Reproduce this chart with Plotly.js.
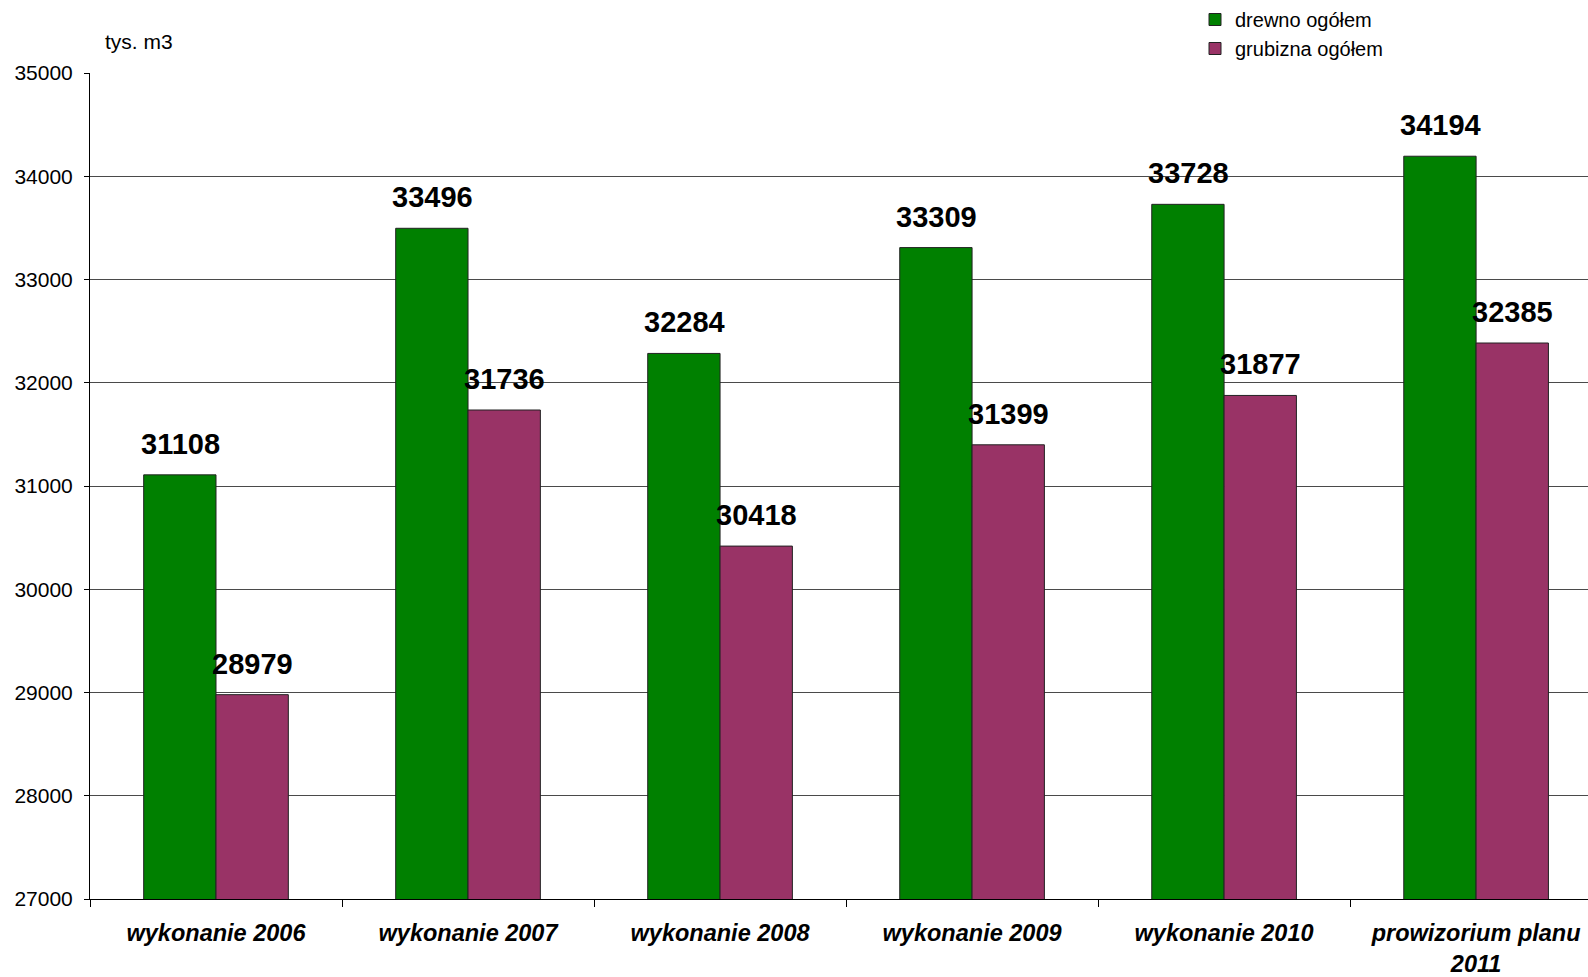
<!DOCTYPE html>
<html>
<head>
<meta charset="utf-8">
<script src="https://cdn.plot.ly/plotly-3.0.1.min.js"></script>
<style>html,body{margin:0;padding:0;background:#fff;overflow:hidden}</style>
</head>
<body>
<div id="chart" style="width:1588px;height:977px"></div>
<script>
const categories = ["wykonanie 2006", "wykonanie 2007", "wykonanie 2008", "wykonanie 2009", "wykonanie 2010", "prowizorium planu<br>2011"];
const seriesNames = ["drewno ogółem", "grubizna ogółem"];
const drewno = [31108, 33496, 32284, 33309, 33728, 34194];
const grubizna = [28979, 31736, 30418, 31399, 31877, 32385];
const yTicks = [27000, 28000, 29000, 30000, 31000, 32000, 33000, 34000, 35000];
const yTickText = ["27000", "28000", "29000", "30000", "31000", "32000", "33000", "34000", "35000"];
const yUnit = "tys. m3";

const FONT = "Liberation Sans, Arial, sans-serif";
const idx = categories.map((c, i) => i);

const traces = [
  {type: "bar", name: seriesNames[0], x: idx, y: drewno,
   marker: {color: "#008000", line: {color: "#222", width: 1}}, hoverinfo: "y"},
  {type: "bar", name: seriesNames[1], x: idx, y: grubizna,
   marker: {color: "#993366", line: {color: "#222", width: 1}}, hoverinfo: "y"}
];

const annotations = [];
[drewno, grubizna].forEach((arr, s) => {
  arr.forEach((v, i) => {
    annotations.push({
      x: i, y: v, xref: "x", yref: "y", text: String(v), showarrow: false,
      xanchor: "center", yanchor: "bottom", xshift: s === 0 ? -36 : 36, yshift: 13,
      font: {family: FONT, size: 29, color: "#000", weight: "bold"}
    });
  });
});
annotations.push({
  xref: "paper", yref: "paper", x: 13 / 1498, y: (899 - 41) / 826, xanchor: "left", yanchor: "middle",
  text: yUnit, showarrow: false, font: {family: FONT, size: 21, color: "#000"}
});

const layout = {
  width: 1588, height: 977,
  margin: {l: 90, r: 0, t: 73, b: 78, pad: 0, autoexpand: false},
  paper_bgcolor: "#fff", plot_bgcolor: "#fff",
  barmode: "group", bargap: 0.426, bargroupgap: 0,
  showlegend: true,
  legend: {
    xref: "container", yref: "container", x: 1195 / 1588, y: 1,
    xanchor: "left", yanchor: "top", bgcolor: "rgba(0,0,0,0)",
    font: {family: FONT, size: 20, color: "#000"}, tracegroupgap: 0, itemwidth: 30
  },
  xaxis: {
    type: "linear", range: [-0.5, 5.444],
    tickmode: "array", tickvals: idx, ticktext: categories,
    showgrid: false, zeroline: false,
    showline: true, linecolor: "#000", linewidth: 1,
    ticks: "",
    tickfont: {family: FONT, size: 23.5, color: "#000", weight: "bold", style: "italic"},
    ticklabelstandoff: 13
  },
  xaxis2: {
    overlaying: "x", type: "linear", range: [-0.5, 5.444],
    tickmode: "array", tickvals: [-0.5, 0.5, 1.5, 2.5, 3.5, 4.5, 5.5],
    showticklabels: false, ticks: "outside", ticklen: 7, tickcolor: "#000",
    showgrid: false, zeroline: false, showline: false
  },
  yaxis: {
    range: [27000, 35000], tickmode: "array", tickvals: yTicks, ticktext: yTickText,
    showgrid: true, gridcolor: "#4a4a4a", gridwidth: 1,
    zeroline: false, showline: true, linecolor: "#000", linewidth: 1,
    ticks: "outside", ticklen: 5, tickcolor: "#000",
    tickfont: {family: FONT, size: 21, color: "#000"},
    ticklabelstandoff: 7
  },
  annotations: annotations
};

traces.push({type: "scatter", x: [0], y: [27000], xaxis: "x2", mode: "markers",
  marker: {opacity: 0}, showlegend: false, hoverinfo: "skip"});

Plotly.newPlot("chart", traces, layout, {displayModeBar: false, staticPlot: true});
</script>
</body>
</html>
